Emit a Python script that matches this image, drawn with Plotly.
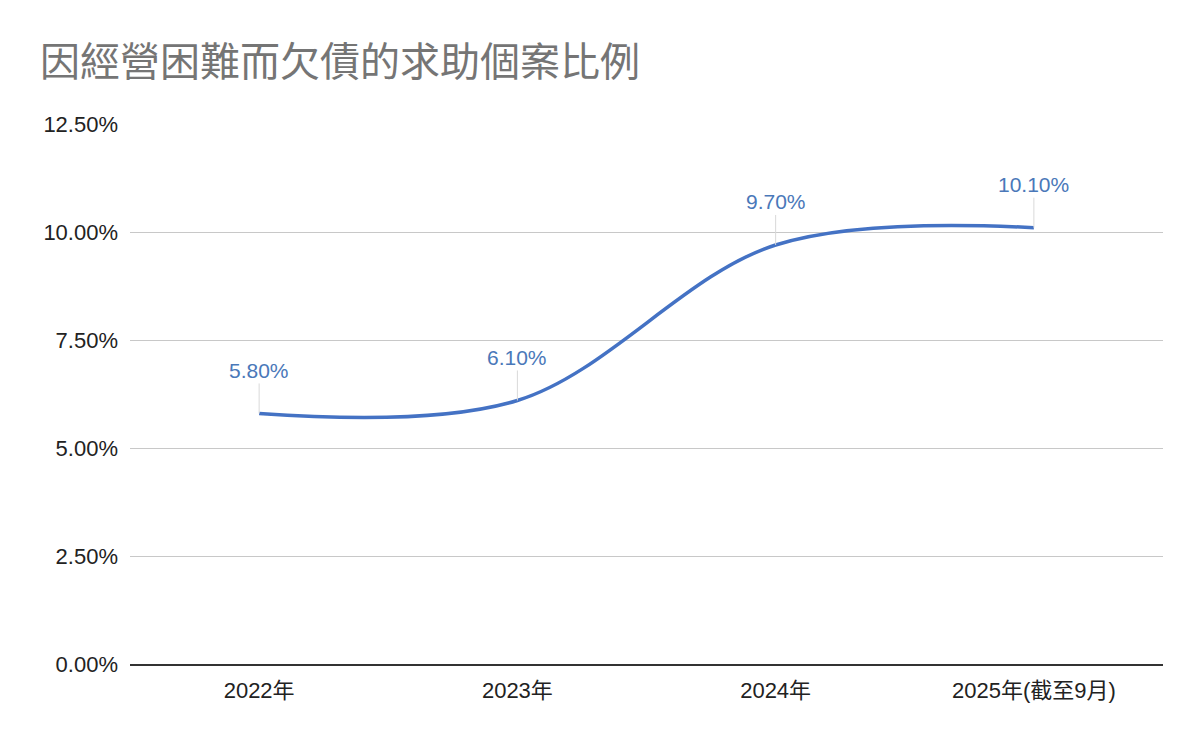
import plotly.graph_objects as go

categories = ["2022年", "2023年", "2024年", "2025年(截至9月)"]
values = [5.8, 6.1, 9.7, 10.1]
labels = [f"{v:.2f}%" for v in values]
y_ticks = [0, 2.5, 5, 7.5, 10, 12.5]
y_tick_text = [f"{v:.2f}%" for v in y_ticks]
title_text = "因經營困難而欠債的求助個案比例"

LINE = "#4472c4"
LABEL = "#4a78b9"
FONT = "Liberation Sans, Arial, Noto Sans CJK TC, sans-serif"

fig = go.Figure()
fig.add_trace(go.Scatter(
    x=categories, y=values, mode="lines",
    line=dict(color=LINE, width=3.5, shape="spline", smoothing=1.0),
    hoverinfo="skip", showlegend=False,
))

for c, v, t in zip(categories, values, labels):
    fig.add_annotation(
        x=c, y=v, xref="x", yref="y", text=t,
        showarrow=True, arrowhead=0, arrowwidth=1, arrowcolor="#d9d9d9",
        ax=0, ay=-43, standoff=0,
        font=dict(family=FONT, size=21, color=LABEL),
    )

fig.update_layout(
    width=1200, height=742,
    paper_bgcolor="white", plot_bgcolor="white",
    margin=dict(l=122, r=45, t=116, b=86),
    title=dict(text=title_text, x=32/1200, xanchor="left", xref="container",
               y=1-54/742, yanchor="middle", yref="container",
               font=dict(family="Noto Sans CJK TC, sans-serif", size=40, color="#757575")),
    font=dict(family=FONT, size=22, color="#222222"),
)
fig.update_xaxes(
    type="category", range=[-0.5, 3.5], showgrid=False,
    showline=True, linecolor="#333333", linewidth=2,
    ticks="", ticklabelstandoff=6,
    tickfont=dict(family=FONT, size=22, color="#222222"),
)
fig.update_yaxes(
    range=[0, 12.5], tickvals=y_ticks, ticktext=y_tick_text,
    showgrid=True, gridcolor="#c8c8c8", gridwidth=1, zeroline=False,
    ticks="", ticklabelstandoff=11,
    tickfont=dict(family=FONT, size=22, color="#222222"),
)

fig.write_html("out.html")
